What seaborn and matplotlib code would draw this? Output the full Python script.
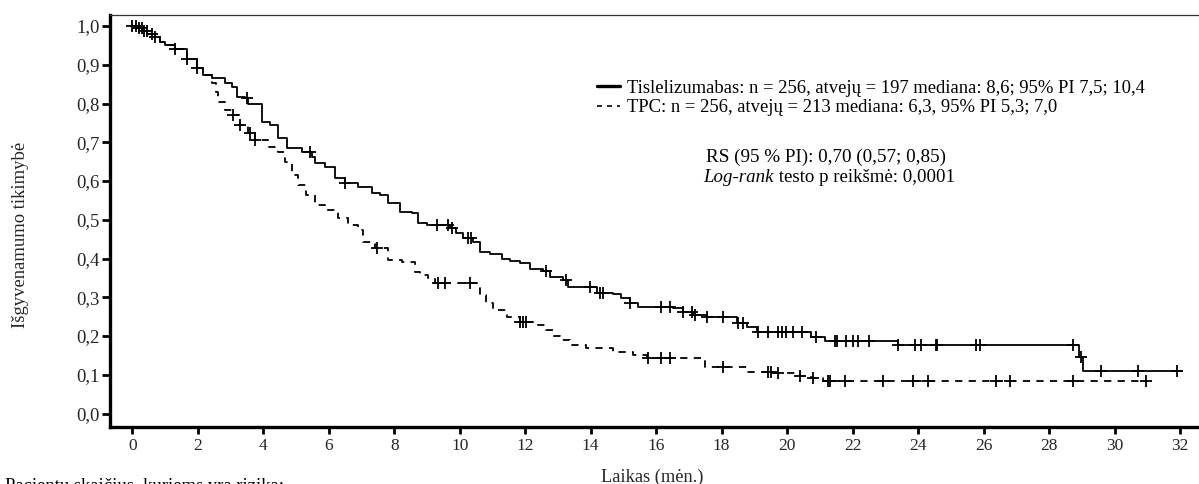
import numpy as np
import pandas as pd
import matplotlib
matplotlib.use("Agg")
import matplotlib.pyplot as plt
from matplotlib.lines import Line2D
import seaborn as sns

# ---------------- data ----------------
tis_t = [0.0, 0.15, 0.3, 0.45, 0.69, 0.85, 1.0, 1.3, 1.66, 1.97, 2.16, 2.42, 2.83, 3.03, 3.19,
         3.44, 3.54, 3.95, 4.2, 4.46, 4.71, 5.17, 5.48, 5.58, 5.88, 6.19, 6.49, 6.9, 7.31,
         7.56, 7.82, 8.17, 8.53, 8.73, 8.99, 9.7, 9.9, 10.1, 10.41, 10.62, 10.92, 11.28,
         11.53, 11.84, 12.14, 12.55, 12.75, 13.16, 13.31, 14.19, 14.69, 14.94, 15.2, 15.45,
         16.52, 16.82, 17.13, 17.54, 18.46, 18.76, 19.07, 20.74, 21.15, 23.39, 28.9, 29.05,
         32.04]
tis_s = [1.0, 0.996, 0.988, 0.98, 0.972, 0.96, 0.951, 0.94, 0.914, 0.892, 0.874, 0.865, 0.852,
         0.843, 0.818, 0.815, 0.80, 0.753, 0.745, 0.71, 0.684, 0.676, 0.663, 0.646, 0.637,
         0.607, 0.594, 0.585, 0.568, 0.564, 0.542, 0.521, 0.517, 0.491, 0.486, 0.478, 0.465,
         0.452, 0.443, 0.418, 0.412, 0.40, 0.394, 0.388, 0.372, 0.369, 0.353, 0.345, 0.326,
         0.31, 0.308, 0.297, 0.284, 0.276, 0.271, 0.263, 0.254, 0.25, 0.233, 0.224, 0.211,
         0.197, 0.188, 0.177, 0.147, 0.11, 0.11]
tis_cens = [0.0, 0.19, 0.29, 0.44, 0.69, 1.31, 1.66, 1.97, 3.49, 5.43, 6.49, 9.3, 9.65, 9.75,
            10.26, 10.36, 12.65, 13.26, 13.98, 14.28, 14.38, 15.2, 16.16, 16.42, 16.82, 17.08,
            17.18, 17.54, 18.05, 18.5, 18.66, 19.1, 19.42, 19.72, 19.83, 19.98, 20.18, 20.44,
            20.88, 21.46, 21.51, 21.81, 22.0, 22.17, 22.5, 23.39, 23.9, 24.1, 24.54, 24.58,
            25.76, 25.88, 28.73, 28.99, 29.6, 30.72, 31.91]

tpc_t = [0.0, 0.15, 0.3, 0.45, 0.69, 0.85, 1.0, 1.3, 1.66, 1.97, 2.16, 2.42, 2.55, 2.63, 2.83,
         3.08, 3.29, 3.54, 3.75, 4.15, 4.46, 4.66, 4.87, 5.07, 5.32, 5.58, 5.88, 6.29, 6.6,
         6.9, 7.05, 7.41, 7.82, 8.23, 8.63, 8.8, 9.04, 9.24, 10.52, 10.62, 10.8, 11.02, 11.43,
         11.84, 12.25, 12.65, 12.85, 13.06, 13.37, 13.87, 14.69, 15.3, 15.71, 17.49, 18.76,
         19.6, 20.39, 20.74, 21.1, 31.0]
tpc_s = [1.0, 0.996, 0.988, 0.98, 0.972, 0.96, 0.951, 0.94, 0.914, 0.892, 0.874, 0.852, 0.83,
         0.805, 0.783, 0.77, 0.745, 0.723, 0.706, 0.689, 0.676, 0.65, 0.615, 0.59, 0.564,
         0.538, 0.525, 0.504, 0.486, 0.474, 0.443, 0.426, 0.396, 0.39, 0.366, 0.357, 0.349,
         0.336, 0.323, 0.306, 0.285, 0.267, 0.25, 0.237, 0.228, 0.215, 0.2, 0.19, 0.177,
         0.168, 0.159, 0.151, 0.142, 0.121, 0.108, 0.104, 0.098, 0.091, 0.084, 0.084]
tpc_cens = [0.1, 0.35, 0.6, 3.08, 3.29, 3.6, 3.75, 7.46, 9.34, 9.55, 10.31, 11.84, 11.94, 12.04,
            15.76, 16.16, 16.42, 18.05, 19.42, 19.52, 19.72, 20.39, 20.8, 21.25, 21.3, 21.76,
            22.93, 23.85, 24.31, 26.39, 26.8, 28.73, 30.95]

x_ticks = list(range(0, 33, 2))
y_ticks = [0.0, 0.1, 0.2, 0.3, 0.4, 0.5, 0.6, 0.7, 0.8, 0.9, 1.0]
y_tick_labels = ["0,0", "0,1", "0,2", "0,3", "0,4", "0,5", "0,6", "0,7", "0,8", "0,9", "1,0"]

legend_labels = ["Tislelizumabas: n = 256, atvejų = 197 mediana: 8,6; 95% PI 7,5; 10,4",
                 "TPC: n = 256, atvejų = 213 mediana: 6,3, 95% PI 5,3; 7,0"]
hr_text = "RS (95 % PI): 0,70 (0,57; 0,85)"
logrank_it = "Log-rank"
logrank_rest = " testo p reikšmė: 0,0001"
y_label = "Išgyvenamumo tikimybė"
x_label = "Laikas (mėn.)"
risk_text = "Pacientų skaičius, kuriems yra rizika:"

# ---------------- style ----------------
sns.set_style("ticks")
plt.rcParams["font.family"] = ["Liberation Serif", "DejaVu Serif"]
plt.rcParams["text.color"] = "black"

W, H = 1199, 484
fig = plt.figure(figsize=(W / 100, H / 100), dpi=100)
L, R, T, B = 110, 1199, 15, 427
ax = fig.add_axes([L / W, 1 - B / H, (R - L) / W, (B - T) / H])


def step_value(tk, sk, t):
    tk = np.asarray(tk)
    idx = np.searchsorted(tk, np.asarray(t), side="right") - 1
    return np.asarray(sk)[np.clip(idx, 0, len(sk) - 1)]


tis_df = pd.DataFrame({"t": tis_t, "s": tis_s})
tpc_df = pd.DataFrame({"t": tpc_t, "s": tpc_s})
tis_c = pd.DataFrame({"t": tis_cens, "s": step_value(tis_t, tis_s, tis_cens)})
tpc_c = pd.DataFrame({"t": tpc_cens, "s": step_value(tpc_t, tpc_s, tpc_cens)})

sns.lineplot(data=tpc_df, x="t", y="s", ax=ax, color="black", lw=1.3,
             drawstyle="steps-post", linestyle=(0, (4, 3.5)), estimator=None, sort=False)
sns.lineplot(data=tis_df, x="t", y="s", ax=ax, color="black", lw=1.3,
             drawstyle="steps-post", estimator=None, sort=False)
sns.scatterplot(data=tis_c, x="t", y="s", ax=ax, marker="+", s=85, color="black",
                linewidth=1.3, zorder=5)
sns.scatterplot(data=tpc_c, x="t", y="s", ax=ax, marker="+", s=85, color="black",
                linewidth=1.3, zorder=5)

# axes ranges: pixel mapping 0 -> x 132.3, 32 -> x 1180 ; y 1.0 -> 26, 0.0 -> 413.5
px_per_t = (1180 - 132.3) / 32
ax.set_xlim((L - 132.3) / px_per_t, (R - 132.3) / px_per_t)
px_per_s = (413.5 - 26) / 1.0
ax.set_ylim(-(B - 413.5) / px_per_s, 1.0 + (26 - T) / px_per_s)

ax.set_xticks(x_ticks)
ax.set_xticklabels([str(v) for v in x_ticks], fontsize=12.5)
ax.set_yticks(y_ticks)
ax.set_yticklabels(y_tick_labels, fontsize=13.5)
ax.tick_params(axis="y", length=6, width=2, pad=1.5, color="black")
ax.tick_params(axis="x", length=5, width=2, pad=3, color="black")

for side in ["left", "bottom"]:
    ax.spines[side].set_linewidth(2.4)
    ax.spines[side].set_color("black")
ax.spines["top"].set_visible(True)
ax.spines["top"].set_linewidth(0.9)
ax.spines["top"].set_color("#333333")
ax.spines["right"].set_visible(False)

ax.set_ylabel(y_label, fontsize=13.4)
ax.yaxis.set_label_coords((29 - L) / (R - L), (B - 235) / (B - T))
ax.set_xlabel(x_label, fontsize=13.2)
ax.xaxis.set_label_coords((652 - L) / (R - L), (B - 469) / (B - T))
ax.xaxis.label.set_va("top")

handles = [Line2D([], [], color="black", lw=2.4),
           Line2D([], [], color="black", lw=1.2, linestyle=(0, (3, 3)))]
ax.legend(handles, legend_labels, loc="upper left",
          bbox_to_anchor=((597 - L) / (R - L), (B - 79.5) / (B - T)),
          frameon=False, fontsize=13.4, borderpad=0, borderaxespad=0,
          handlelength=1.25, handletextpad=0.35, labelspacing=0.15)

ax.text((826 - L) / (R - L), (B - 157) / (B - T), hr_text, transform=ax.transAxes,
        ha="center", va="center", fontsize=13.8)
t1 = ax.text((703 - L) / (R - L), (B - 178) / (B - T), logrank_it, transform=ax.transAxes,
             ha="left", va="center", fontsize=13.6, style="italic")
ax.annotate(logrank_rest, xy=(1, 0), xycoords=t1, ha="left", va="bottom", fontsize=13.6)

fig.text(5 / W, 1 - 478 / H, risk_text, ha="left", va="top", fontsize=13.4)

fig.savefig("out.png", dpi=100)
